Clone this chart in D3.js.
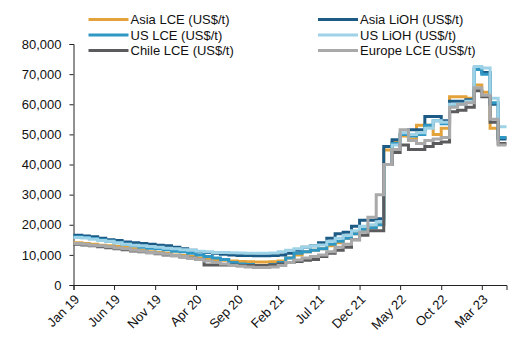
<!DOCTYPE html>
<html>
<head>
<meta charset="utf-8">
<script src="https://cdn.jsdelivr.net/npm/d3@7"></script>
<style>
  body { margin: 0; background: #fff; }
  svg { font-family: "Liberation Sans", Arial, sans-serif; }
</style>
</head>
<body>
<div id="chart"></div>
<script>
// monthly prices, Jan 2019 .. May 2023 (US$/t)
const startMonth = new Date(2019, 0, 1)
const endMonth = new Date(2023, 5, 1)

const asiaLCE = [14000,13800,13500,13200,13000,12800,12500,12000,11500,11000,
  10800,10500,10000,9800,9500,9000,8800,8500,8200,8000,
  7800,7700,7600,7600,7700,8000,9000,10000,11000,11500,
  12000,13000,14000,15500,17000,18500,19000,20000,44800,47500,
  49500,48500,53000,53000,50000,52000,62500,62500,62000,66400,
  64000,52000,49000]
const asiaLiOH = [16500,16300,16000,15500,15000,14800,14300,14000,13800,13500,
  13200,13000,12500,12000,11500,11000,10800,10500,10200,10000,
  9800,9800,9700,9700,9800,10000,10500,11500,12500,13000,
  14000,15500,17000,17500,19500,21500,21500,22000,46000,48200,
  50000,51500,51500,55900,55900,54500,61000,61000,61500,72000,
  70500,60000,48500]
const usLCE = [16000,15800,15400,15000,14500,14000,13500,13000,12500,12200,
  12000,11700,11200,11000,10500,10000,9500,9000,8500,7500,
  7000,6800,6500,6500,6800,7500,9000,10500,11000,11500,
  12000,13500,14500,15500,17000,18500,19000,20000,40000,47000,
  50000,49500,50000,53000,54500,53500,59500,60000,61000,71500,
  70000,60500,49000]
const usLiOH = [15800,15600,15200,14800,14500,14000,13500,13200,13000,12800,
  12500,12200,12000,11700,11500,11200,11000,10800,10800,10700,
  10600,10500,10500,10500,10600,11000,11500,12000,12500,13000,
  13300,14500,15500,16500,18000,19500,20000,21000,40000,46500,
  50500,50000,50500,52000,54500,54000,60000,60000,61000,72500,
  72000,62000,52500]
const chileLCE = [13500,13300,13000,12700,12400,12000,11700,11300,11000,10700,
  10400,10000,9700,9300,9000,8500,6600,6600,6600,6600,
  6500,6500,6500,6500,6600,7000,7500,7800,8200,8500,
  9500,10500,11500,12500,15000,16500,18000,18000,40000,44000,
  46500,45000,45000,46000,47000,47500,57500,58000,59000,64500,
  62500,54000,47000]
const europeLCE = [13800,13500,13200,13000,12700,12300,12000,11500,11200,10800,
  10500,10200,9800,9500,9000,8500,8000,7500,7000,6500,
  6200,6000,5800,5800,6000,6500,7500,8300,9000,9500,
  10000,11000,12500,13500,15000,17500,22500,30000,40000,45000,
  51500,48000,47000,48000,48500,49000,59000,60000,60500,65500,
  63000,55000,46500]

const seriesNames = ["Asia LCE (US$/t)", "Asia LiOH (US$/t)", "US LCE (US$/t)",
  "US LiOH (US$/t)", "Chile LCE (US$/t)", "Europe LCE (US$/t)"]
const seriesColors = ["#E3A33A", "#1D5B87", "#2F97C4", "#9ED3E7", "#5B5B5D", "#A9A9AA"]
const yTicks = [0,10000,20000,30000,40000,50000,60000,70000,80000]
const xTickLabels = ["Jan 19","Jun 19","Nov 19","Apr 20","Sep 20","Feb 21","Jul 21","Dec 21","May 22","Oct 22","Mar 23"]

const W = 530, H = 353
const m = {top: 44, right: 23.5, bottom: 68, left: 73.5}

const svg = d3.select("#chart").append("svg")
  .attr("width", W).attr("height", H)

const x = d3.scaleTime().domain([startMonth, endMonth]).range([m.left, W - m.right])
const y = d3.scaleLinear().domain([0, 80000]).range([H - m.bottom, m.top])

const months = asiaLCE.map((d, i) => new Date(2019, i, 1))
const allSeries = [asiaLCE, asiaLiOH, usLCE, usLiOH, chileLCE, europeLCE]

// y axis
const yAxis = svg.append("g")
  .attr("transform", `translate(${m.left},0)`)
  .call(d3.axisLeft(y).tickValues(yTicks).tickFormat(d3.format(",")).tickSize(4).tickPadding(8))
yAxis.selectAll("text").style("font-size", "13px").attr("fill", "#111")
yAxis.selectAll("line,path").attr("stroke", "#222")

// x axis
const xTickDates = xTickLabels.map((d, i) => new Date(2019, i * 5, 1))
const xAxis = svg.append("g")
  .attr("transform", `translate(0,${H - m.bottom})`)
  .call(d3.axisBottom(x).tickValues(xTickDates).tickFormat((d, i) => xTickLabels[i]).tickSizeOuter(0).tickSize(5))
xAxis.selectAll("line,path").attr("stroke", "#222")
xAxis.selectAll("text")
  .style("font-size", "13px").attr("fill", "#111")
  .attr("text-anchor", "end")
  .attr("y", 0).attr("dy", "0.35em")
  .attr("transform", "translate(3,12) rotate(-45)")

// lines (step)
const line = d3.line()
  .x(d => x(d[0]))
  .y(d => y(d[1]))
  .curve(d3.curveStepAfter)

allSeries.forEach((s, k) => {
  const pts = s.map((v, i) => [months[i], v])
  pts.push([endMonth, s[s.length - 1]])
  svg.append("path")
    .datum(pts)
    .attr("d", line)
    .attr("fill", "none")
    .attr("stroke", seriesColors[k])
    .attr("stroke-width", 3)
})

// legend, two columns
const legend = svg.append("g")
seriesNames.forEach((name, i) => {
  const col = i % 2, row = Math.floor(i / 2)
  const lx = col === 0 ? 88.5 : 318, ly = 19.5 + row * 15.5
  legend.append("line")
    .attr("x1", lx).attr("x2", lx + 40)
    .attr("y1", ly).attr("y2", ly)
    .attr("stroke", seriesColors[i]).attr("stroke-width", 3)
  legend.append("text")
    .attr("x", lx + 42).attr("y", ly).attr("dy", "0.35em")
    .style("font-size", "13px").attr("fill", "#111")
    .text(name)
})
</script>
</body>
</html>
